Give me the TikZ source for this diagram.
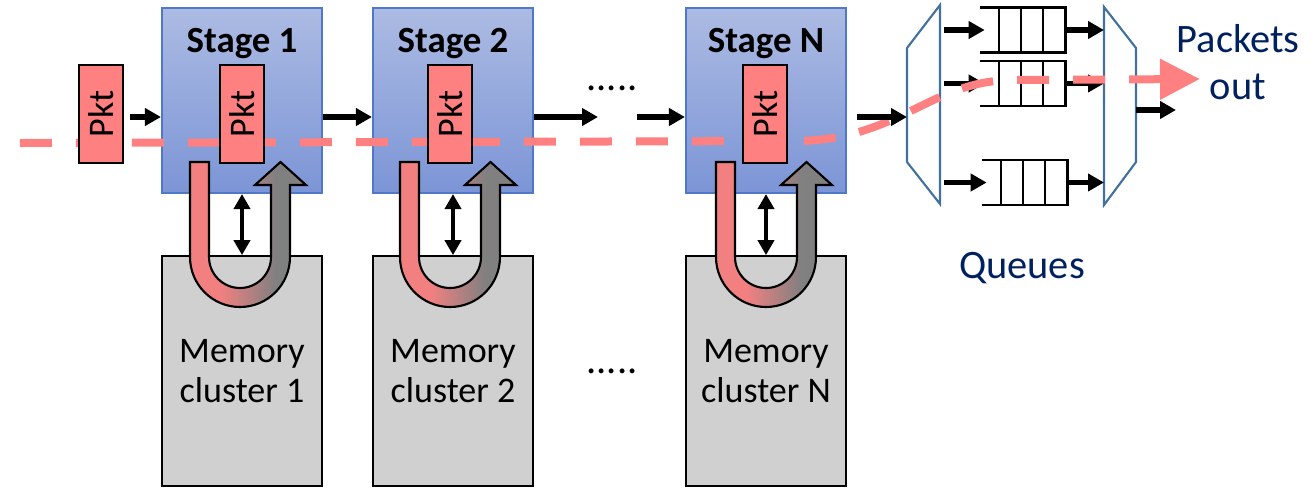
\documentclass[tikz,border=0pt]{standalone}
\usepackage{fontspec}
\setmainfont{Carlito}
\usetikzlibrary{arrows.meta,positioning,calc}

\definecolor{stagetop}{RGB}{172,187,227}
\definecolor{stagebot}{RGB}{124,149,214}
\definecolor{stageline}{RGB}{80,120,200}
\definecolor{memgray}{RGB}{208,208,208}
\definecolor{pktred}{RGB}{255,128,128}
\definecolor{ured}{RGB}{242,128,128}
\definecolor{ugray}{RGB}{128,128,128}
\definecolor{muxblue}{RGB}{65,113,156}
\definecolor{navy}{RGB}{0,32,96}

\pgfdeclarehorizontalshading{ushade}{100bp}{color(0bp)=(ured); color(38bp)=(ured);
  color(62bp)=(ugray); color(100bp)=(ugray)}

\tikzset{
  stagebox/.style={draw=stageline, line width=1.2pt, top color=stagetop, bottom color=stagebot,
    minimum width=3.2cm, minimum height=3.7cm},
  stagetitle/.style={font=\fontsize{21}{24}\selectfont\bfseries},
  membox/.style={draw=black, line width=1pt, fill=memgray, minimum width=3.2cm, minimum height=4.6cm,
    align=center, font=\fontsize{20.5}{23}\selectfont},
  pktbox/.style={draw=black, line width=1pt, fill=pktred, rotate=90, minimum width=1.96cm,
    minimum height=0.88cm, inner sep=0pt, font=\fontsize{20.5}{23}\selectfont},
  arr/.style={line width=3.2pt, -{Triangle[length=0.32cm,width=0.34cm]}},
  dblarr/.style={line width=2.6pt, {Triangle[length=0.3cm,width=0.32cm]}-{Triangle[length=0.3cm,width=0.32cm]}},
  uarrow/.style={draw=black, line width=1.2pt, shading=ushade},
  qline/.style={line width=1.4pt},
  mux/.style={draw=muxblue, line width=1.2pt},
  flow/.style={draw=pktred, line width=0.16cm, dash pattern=on 0.64cm off 0.48cm,
    -{Triangle[length=0.8cm,width=0.78cm]}},
  navytext/.style={text=navy, font=\fontsize{23}{27}\selectfont},
  dots/.style={font=\fontsize{23}{27}\selectfont},
}

\begin{document}
\begin{tikzpicture}[x=0.02cm, y=-0.02cm]
  \useasboundingbox (0,0) rectangle (1314,488);

  % stages and memory clusters
  \foreach \i/\x/\n in {1/242/1, 2/453/2, 3/766/N} {
    \node[membox] (mem\i) at (\x,371) {Memory\\cluster \n};
    \node[stagebox] (st\i) at (\x,100.5) {};
    \node[stagetitle, anchor=base] (title\i) at (\x,52) {Stage \n};
    \draw[dblarr] (st\i.south) -- (mem\i.north);
  }

  \coordinate (row) at (0,117);
  \coordinate (gapA) at (598,117);
  \coordinate (gapB) at (637,117);
  \node[dots] (dots1) at (612,88) {.....};
  \node[dots] (dots2) at (612,371) {.....};

  % queues and muxes
  \draw[mux] (940,5) coordinate (mA) -- (907,48) -- (907,162) -- (940,204) -- cycle;
  \draw[mux] (1104,7) coordinate (mB) -- (1136,48) -- (1136,162) -- (1104,205) -- cycle;
  \coordinate (muxL) at (907,117);
  \coordinate (muxR) at (1136,110);
  \coordinate (outend) at (1176,110);

  \node[minimum width=1.7cm, minimum height=0.88cm] (q1) at (1022.5,30) {};
  \node[minimum width=1.7cm, minimum height=0.88cm] (q2) at (1022.5,83.5) {};
  \node[minimum width=1.7cm, minimum height=0.88cm] (q3) at (1024.5,182.5) {};
  \foreach \q in {q1,q2,q3} {
    \draw[qline] (\q.north west) -- (\q.north east) -- (\q.south east) -- (\q.south west);
    \foreach \f in {0.224,0.48,0.74}
      \draw[qline] ($(\q.north west)!\f!(\q.north east)$) -- ($(\q.south west)!\f!(\q.south east)$);
    \draw[arr] ([xshift=0.08cm]\q.west -| mA) -- ([xshift=0.1cm]\q.west);
    \draw[arr] (\q.east) -- (\q.east -| mB);
  }
  \draw[arr] (muxR) -- (outend);

  % packet path
  \coordinate (flowin) at (20,143);
  \coordinate (flowout) at (1200,79);
  \draw[flow] (flowin) -- (800,141) .. controls (900,138) and (930,82) .. (1010,80) -- (flowout);

  \node[pktbox] (pkt0) at (101,114) {Pkt};
  \foreach \i/\p in {1/242, 2/450, 3/765}
    \node[pktbox] (pkt\i) at (\p,114) {Pkt};

  % connectors between stages
  \draw[arr] ([xshift=0.12cm]pkt0.south |- row) -- (st1.west |- row);
  \draw[arr] (st1.east |- row) -- (st2.west |- row);
  \draw[arr] (st2.east |- row) -- (gapA);
  \draw[arr] (gapB) -- (st3.west |- row);
  \draw[arr] ([xshift=0.2cm]st3.east |- row) -- (muxL);

  % read/write arrows
  \foreach \c in {240, 450, 766}
    \draw[uarrow] (\c-50,162) -- (\c-50,257) arc[start angle=180, end angle=360, radius=1cm]
      -- (\c+50,185) -- (\c+66,185) -- (\c+40.5,162) -- (\c+15,185) -- (\c+31,185) -- (\c+31,257)
      arc[start angle=0, end angle=-180, radius=0.62cm] -- (\c-31,162) -- cycle;

  \node[navytext] (queues) at (1022,268) {Queues};
  \node[navytext, align=center] (pout) at (1238,62) {Packets\\out};
\end{tikzpicture}
\end{document}
